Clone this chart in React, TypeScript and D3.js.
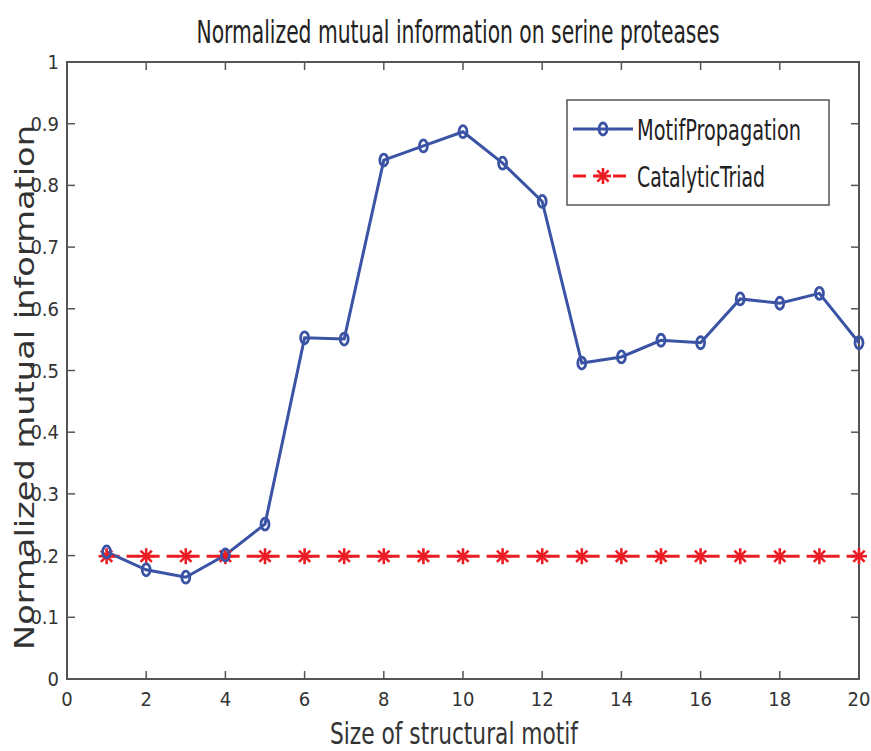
import React from "react";
import * as d3 from "d3";

const motifSizes = [1, 2, 3, 4, 5, 6, 7, 8, 9, 10, 11, 12, 13, 14, 15, 16, 17, 18, 19, 20];
const motifPropagation = [0.206, 0.177, 0.165, 0.201, 0.251, 0.553, 0.551, 0.841, 0.864, 0.887, 0.836, 0.774, 0.512, 0.522, 0.549, 0.545, 0.616, 0.609, 0.625, 0.545];
const catalyticTriad = [0.199, 0.199, 0.199, 0.199, 0.199, 0.199, 0.199, 0.199, 0.199, 0.199, 0.199, 0.199, 0.199, 0.199, 0.199, 0.199, 0.199, 0.199, 0.199, 0.199];
const xTicks = [0, 2, 4, 6, 8, 10, 12, 14, 16, 18, 20];
const yTicks = [0, 0.1, 0.2, 0.3, 0.4, 0.5, 0.6, 0.7, 0.8, 0.9, 1];
const seriesNames = ["MotifPropagation", "CatalyticTriad"];

const W = 871;
const H = 751;
const left = 67, right = 859, top = 62, bottom = 679;
const BLUE = "#3a53a4";
const RED = "#ec1c24";
const AXIS = "#555";
const FONT = "'Liberation Sans Narrow', 'DejaVu Sans Condensed', Arial, sans-serif";

function Asterisk({ x, y, r = 8 }: { x: number; y: number; r?: number }) {
  const angles = [0, 45, 90, 135];
  return (
    <g stroke={RED} strokeWidth={2.6}>
      {angles.map((a) => {
        const rad = (a * Math.PI) / 180;
        const dx = Math.cos(rad) * r;
        const dy = Math.sin(rad) * r;
        return <line key={a} x1={x - dx} y1={y - dy} x2={x + dx} y2={y + dy} />;
      })}
    </g>
  );
}

function Ring({ x, y }: { x: number; y: number }) {
  return <ellipse cx={x} cy={y} rx={4} ry={6} fill="none" stroke={BLUE} strokeWidth={2.8} />;
}

export default function App() {
  const xs = d3.scaleLinear().domain([0, 20]).range([left, right]);
  const ys = d3.scaleLinear().domain([0, 1]).range([bottom, top]);

  const blueLine = d3
    .line<number>()
    .x((_, i) => xs(motifSizes[i]))
    .y((d) => ys(d))(motifPropagation) as string;
  const redLine = d3
    .line<number>()
    .x((_, i) => xs(motifSizes[i]))
    .y((d) => ys(d))(catalyticTriad) as string;

  const tickLen = 8;

  return (
    <svg width={W} height={H} style={{ display: "block", position: "absolute", left: 0, top: 0 }}>
      <rect width={W} height={H} fill="#fff" />
      {/* title */}
      <text x={458} y={43} textAnchor="middle" fontFamily={FONT} fontSize={32} fill="#222" textLength={523} lengthAdjust="spacingAndGlyphs">
        Normalized mutual information on serine proteases
      </text>

      {/* axes box */}
      <rect x={left} y={top} width={right - left} height={bottom - top} fill="none" stroke={AXIS} strokeWidth={2} />

      {/* x ticks */}
      {xTicks.map((t) => (
        <g key={"x" + t}>
          <line x1={xs(t)} x2={xs(t)} y1={bottom} y2={bottom - tickLen} stroke={AXIS} strokeWidth={1.5} />
          <line x1={xs(t)} x2={xs(t)} y1={top} y2={top + tickLen} stroke={AXIS} strokeWidth={1.5} />
          <text x={xs(t)} y={bottom + 27} textAnchor="middle" fontFamily={FONT} fontSize={20} fill="#333">
            {t}
          </text>
        </g>
      ))}

      {/* y ticks */}
      {yTicks.map((t) => (
        <g key={"y" + t}>
          <line x1={left} x2={left + tickLen} y1={ys(t)} y2={ys(t)} stroke={AXIS} strokeWidth={1.5} />
          <line x1={right} x2={right - tickLen} y1={ys(t)} y2={ys(t)} stroke={AXIS} strokeWidth={1.5} />
          <text x={left - 8} y={ys(t) + 7} textAnchor="end" fontFamily={FONT} fontSize={20} fill="#333">
            {d3.format("~g")(t)}
          </text>
        </g>
      ))}

      {/* axis labels */}
      <text x={454} y={744} textAnchor="middle" fontFamily={FONT} fontSize={30} fill="#333" textLength={248} lengthAdjust="spacingAndGlyphs">
        Size of structural motif
      </text>
      <text
        transform={`translate(34, ${(125 + 650) / 2}) rotate(-90)`}
        textAnchor="middle"
        fontFamily="'DejaVu Sans', sans-serif"
        fontSize={26}
        fill="#333"
        textLength={525}
        lengthAdjust="spacingAndGlyphs"
      >
        Normalized mutual information
      </text>

      {/* series */}
      <path d={redLine} fill="none" stroke={RED} strokeWidth={3} strokeDasharray="13 7" />
      <path d={blueLine} fill="none" stroke={BLUE} strokeWidth={3} />
      {catalyticTriad.map((v, i) => (
        <Asterisk key={"a" + i} x={xs(motifSizes[i])} y={ys(v)} />
      ))}
      {motifPropagation.map((v, i) => (
        <Ring key={"r" + i} x={xs(motifSizes[i])} y={ys(v)} />
      ))}

      {/* legend */}
      <rect x={567} y={100} width={262} height={105} fill="#fff" stroke={AXIS} strokeWidth={1.5} />
      <line x1={573} x2={633} y1={129} y2={129} stroke={BLUE} strokeWidth={3} />
      <Ring x={603} y={129} />
      <text x={637} y={140} fontFamily={FONT} fontSize={29} fill="#222" textLength={164} lengthAdjust="spacingAndGlyphs">
        {seriesNames[0]}
      </text>
      <line x1={573} x2={633} y1={176} y2={176} stroke={RED} strokeWidth={3} strokeDasharray="13 7" />
      <Asterisk x={603} y={176} />
      <text x={637} y={187} fontFamily={FONT} fontSize={29} fill="#222" textLength={128} lengthAdjust="spacingAndGlyphs">
        {seriesNames[1]}
      </text>
    </svg>
  );
}
